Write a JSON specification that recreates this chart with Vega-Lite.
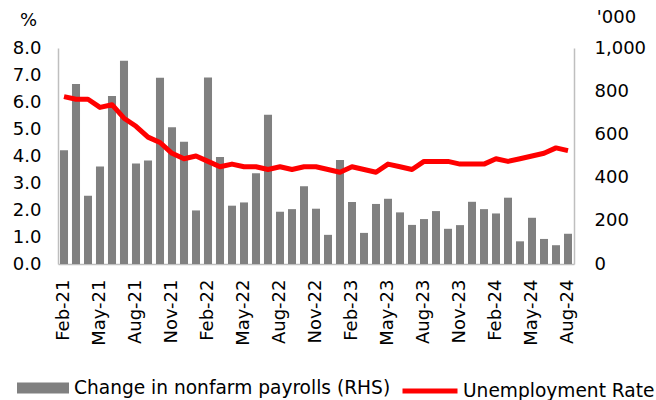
{
  "$schema": "https://vega.github.io/schema/vega-lite/v6.json",
  "width": 516,
  "height": 216,
  "autosize": {"type": "none"},
  "padding": {"left": 58, "top": 48, "right": 82, "bottom": 136},
  "background": "white",
  "config": {
    "view": {"stroke": null},
    "font": "DejaVu Sans",
    "axis": {
      "labelFont": "DejaVu Sans",
      "titleFont": "DejaVu Sans",
      "labelColor": "#000000",
      "titleColor": "#000000",
      "labelFontSize": 18,
      "titleFontSize": 18,
      "titleFontWeight": "normal",
      "domainColor": "#bfbfbf",
      "domainWidth": 1.5,
      "ticks": false,
      "tickSize": 0,
      "grid": false
    },
    "legend": {
      "labelFont": "DejaVu Sans",
      "labelColor": "#000000",
      "labelFontSize": 18.6,
      "labelLimit": 500,
      "padding": 0
    }
  },
  "data": {
    "values": [
      {"month": "Feb-21", "payrolls": 527, "unemp": 6.2},
      {"month": "Mar-21", "payrolls": 833, "unemp": 6.1},
      {"month": "Apr-21", "payrolls": 316, "unemp": 6.1},
      {"month": "May-21", "payrolls": 451, "unemp": 5.8},
      {"month": "Jun-21", "payrolls": 778, "unemp": 5.9},
      {"month": "Jul-21", "payrolls": 941, "unemp": 5.4},
      {"month": "Aug-21", "payrolls": 465, "unemp": 5.1},
      {"month": "Sep-21", "payrolls": 479, "unemp": 4.7},
      {"month": "Oct-21", "payrolls": 862, "unemp": 4.5},
      {"month": "Nov-21", "payrolls": 633, "unemp": 4.1},
      {"month": "Dec-21", "payrolls": 566, "unemp": 3.9},
      {"month": "Jan-22", "payrolls": 248, "unemp": 4.0},
      {"month": "Feb-22", "payrolls": 864, "unemp": 3.8},
      {"month": "Mar-22", "payrolls": 495, "unemp": 3.6},
      {"month": "Apr-22", "payrolls": 270, "unemp": 3.7},
      {"month": "May-22", "payrolls": 285, "unemp": 3.6},
      {"month": "Jun-22", "payrolls": 420, "unemp": 3.6},
      {"month": "Jul-22", "payrolls": 691, "unemp": 3.5},
      {"month": "Aug-22", "payrolls": 242, "unemp": 3.6},
      {"month": "Sep-22", "payrolls": 254, "unemp": 3.5},
      {"month": "Oct-22", "payrolls": 360, "unemp": 3.6},
      {"month": "Nov-22", "payrolls": 256, "unemp": 3.6},
      {"month": "Dec-22", "payrolls": 135, "unemp": 3.5},
      {"month": "Jan-23", "payrolls": 481, "unemp": 3.4},
      {"month": "Feb-23", "payrolls": 287, "unemp": 3.6},
      {"month": "Mar-23", "payrolls": 144, "unemp": 3.5},
      {"month": "Apr-23", "payrolls": 278, "unemp": 3.4},
      {"month": "May-23", "payrolls": 302, "unemp": 3.7},
      {"month": "Jun-23", "payrolls": 239, "unemp": 3.6},
      {"month": "Jul-23", "payrolls": 181, "unemp": 3.5},
      {"month": "Aug-23", "payrolls": 208, "unemp": 3.8},
      {"month": "Sep-23", "payrolls": 245, "unemp": 3.8},
      {"month": "Oct-23", "payrolls": 163, "unemp": 3.8},
      {"month": "Nov-23", "payrolls": 180, "unemp": 3.7},
      {"month": "Dec-23", "payrolls": 288, "unemp": 3.7},
      {"month": "Jan-24", "payrolls": 254, "unemp": 3.7},
      {"month": "Feb-24", "payrolls": 234, "unemp": 3.9},
      {"month": "Mar-24", "payrolls": 307, "unemp": 3.8},
      {"month": "Apr-24", "payrolls": 105, "unemp": 3.9},
      {"month": "May-24", "payrolls": 214, "unemp": 4.0},
      {"month": "Jun-24", "payrolls": 116, "unemp": 4.1},
      {"month": "Jul-24", "payrolls": 87, "unemp": 4.3},
      {"month": "Aug-24", "payrolls": 140, "unemp": 4.2}
    ]
  },
  "encoding": {
    "x": {
      "field": "month",
      "type": "ordinal",
      "sort": null,
      "scale": {"paddingInner": 0.33, "paddingOuter": 0.165},
      "axis": {
        "title": null,
        "values": ["Feb-21", "May-21", "Aug-21", "Nov-21", "Feb-22", "May-22", "Aug-22", "Nov-22", "Feb-23", "May-23", "Aug-23", "Nov-23", "Feb-24", "May-24", "Aug-24"],
        "labelAngle": -90,
        "labelPadding": 15
      }
    }
  },
  "layer": [
    {
      "mark": {"type": "bar"},
      "encoding": {
        "y": {
          "field": "payrolls",
          "type": "quantitative",
          "scale": {"domain": [0, 1000]},
          "axis": {
            "orient": "right",
            "values": [0, 200, 400, 600, 800, 1000],
            "format": ",.0f",
            "labelPadding": 20,
            "title": "'000",
            "titleAngle": 0,
            "titleAlign": "center",
            "titleBaseline": "middle",
            "titleX": 42,
            "titleY": -31
          }
        },
        "fill": {
          "datum": "Change in nonfarm payrolls (RHS)",
          "scale": {"range": ["#808080"]},
          "legend": {
            "orient": "none",
            "legendX": -41,
            "legendY": 314,
            "title": null,
            "symbolType": "M-1,-0.2115H1V0.2115H-1Z",
            "symbolSize": 2704,
            "symbolStrokeWidth": 0,
            "labelOffset": 5
          }
        }
      }
    },
    {
      "mark": {"type": "line", "strokeWidth": 5, "strokeJoin": "round"},
      "encoding": {
        "y": {
          "field": "unemp",
          "type": "quantitative",
          "scale": {"domain": [0, 8]},
          "axis": {
            "orient": "left",
            "values": [0, 1, 2, 3, 4, 5, 6, 7, 8],
            "format": ".1f",
            "labelPadding": 17,
            "title": "%",
            "titleAngle": 0,
            "titleAlign": "center",
            "titleBaseline": "middle",
            "titleX": -30,
            "titleY": -28
          }
        },
        "stroke": {
          "datum": "Unemployment Rate",
          "scale": {"range": ["#ff0000"]},
          "legend": {
            "orient": "none",
            "legendX": 342,
            "legendY": 313,
            "title": null,
            "symbolType": "stroke",
            "symbolSize": 3025,
            "symbolStrokeWidth": 5,
            "labelOffset": 3
          }
        }
      }
    }
  ],
  "resolve": {"scale": {"y": "independent"}}
}
